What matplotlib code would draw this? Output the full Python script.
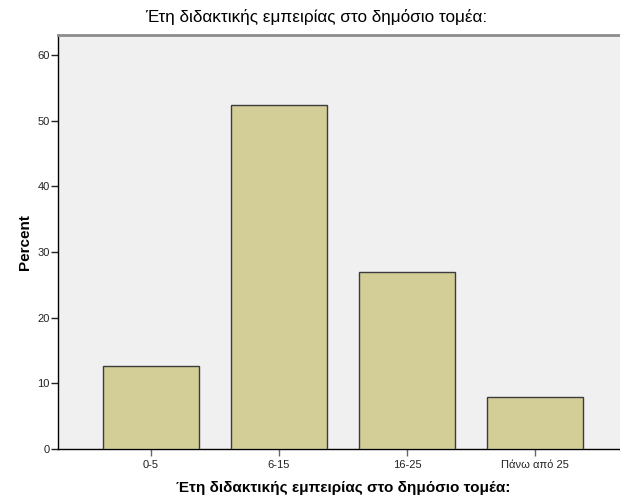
import matplotlib.pyplot as plt

categories = ["0-5", "6-15", "16-25", "Πάνω από 25"]
percent = [12.7, 52.4, 27.0, 7.9]
yticks = [0, 10, 20, 30, 40, 50, 60]

title = "Έτη διδακτικής εμπειρίας στο δημόσιο τομέα:"

plt.rcParams["font.family"] = ["Liberation Sans", "DejaVu Sans"]

fig = plt.figure(figsize=(6.2, 4.95), dpi=100)
ax = fig.add_axes([58 / 620, 46 / 495, 570 / 620, 413.7 / 495])
ax.set_facecolor("#f0f0f0")

x = range(len(categories))
ax.bar(x, percent, width=0.75, color="#d3ce97", edgecolor="#3c3c3c", linewidth=1.0, zorder=3)

ax.set_xlim(-0.723, 3.723)
ax.set_ylim(0, 63)
ax.set_yticks(yticks)
ax.set_xticks(list(x))
ax.set_xticklabels(categories)
ax.tick_params(axis="both", direction="out", length=5, width=1, labelsize=8, colors="#222222")
ax.tick_params(axis="y", pad=1)
ax.tick_params(axis="x", pad=3, color="#666666")

for side in ["left", "bottom"]:
    ax.spines[side].set_color("black")
    ax.spines[side].set_linewidth(1.0)
ax.spines["top"].set_color("#8c8c8c")
ax.spines["top"].set_linewidth(2.0)
ax.spines["right"].set_visible(False)

ax.set_ylabel("Percent", fontsize=11, fontweight="bold", labelpad=4)
ax.set_xlabel(title, fontsize=11, fontweight="bold", labelpad=8)
fig.text(0.51, 1 - 17 / 495, title, ha="center", va="center", fontsize=12.3)

fig.savefig("out.png", dpi=100)
